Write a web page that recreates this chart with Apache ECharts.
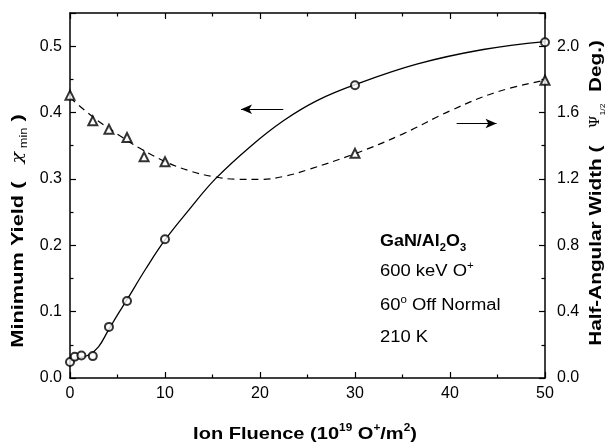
<!DOCTYPE html>
<html>
<head>
<meta charset="utf-8">
<script src="https://cdn.jsdelivr.net/npm/echarts@6/dist/echarts.min.js"></script>
<style>
html, body { margin: 0; padding: 0; background: #fff; }
#main { width: 605px; height: 445px; }
</style>
</head>
<body>
<div id="main"></div>
<script>
// measured points: minimum yield (left axis)
var yieldX = [0, 0.5, 1.2, 2.4, 4.1, 6, 10, 30, 50];
var yieldY = [0.024, 0.032, 0.034, 0.033, 0.077, 0.116, 0.209, 0.441, 0.506];
// measured points: half-angular width (right axis)
var widthX = [0, 2.4, 4.1, 6, 7.8, 10, 30, 50];
var widthY = [1.705, 1.55, 1.50, 1.45, 1.333, 1.303, 1.354, 1.795];
// fitted curves
var yieldFitX = [0, 1, 2, 3, 4, 5, 6, 8, 10, 12.5, 15.3, 19, 22.5, 26, 30, 36.5, 43.5, 50];
var yieldFitY = [0.026, 0.030, 0.035, 0.047, 0.071, 0.095, 0.118, 0.165, 0.208, 0.253, 0.300, 0.349, 0.388, 0.418, 0.442, 0.473, 0.495, 0.507];
var widthFitX = [0, 2.5, 5, 7.5, 10, 12.5, 15, 17.5, 20, 22.5, 25, 30, 35, 40, 45, 50];
var widthFitY = [1.69, 1.57, 1.47, 1.38, 1.305, 1.25, 1.215, 1.198, 1.197, 1.215, 1.255, 1.352, 1.47, 1.61, 1.725, 1.795];

function pairs(xs, ys) {
    return xs.map(function (x, i) { return [x, ys[i]]; });
}

var font = '"Liberation Sans", Arial, sans-serif';
var black = '#000';
var axisLine = { show: true, onZero: false, lineStyle: { color: black, width: 1.5 } };
var axisTick = { show: true, inside: true, length: 6, lineStyle: { color: black, width: 1.2 } };
var minorTick = { show: true, splitNumber: 2, length: 3.5, lineStyle: { color: black, width: 1.2 } };

var myChart = echarts.init(document.getElementById('main'));
var option = {
    animation: false,
    backgroundColor: '#fff',
    grid: { left: 70, right: 60, top: 13, bottom: 67 },
    xAxis: [{
        type: 'value', min: 0, max: 50, interval: 10, position: 'bottom',
        axisLine: axisLine, axisTick: axisTick, minorTick: minorTick,
        axisLabel: { color: black, fontFamily: font, fontSize: 16, margin: 8 },
        splitLine: { show: false }
    }, {
        type: 'value', min: 0, max: 50, interval: 10, position: 'top',
        axisLine: axisLine, axisTick: axisTick, minorTick: minorTick,
        axisLabel: { show: false },
        splitLine: { show: false }
    }],
    yAxis: [{
        type: 'value', min: 0, max: 0.55, interval: 0.1, position: 'left',
        axisLine: axisLine, axisTick: axisTick, minorTick: minorTick,
        axisLabel: {
            color: black, fontFamily: font, fontSize: 16, margin: 8, showMaxLabel: false,
            formatter: function (v) { return v.toFixed(1); }
        },
        splitLine: { show: false }
    }, {
        type: 'value', min: 0, max: 2.2, interval: 0.4, position: 'right',
        axisLine: axisLine, axisTick: axisTick, minorTick: minorTick,
        axisLabel: {
            color: black, fontFamily: font, fontSize: 16, margin: 12, showMaxLabel: false,
            formatter: function (v) { return v.toFixed(1); }
        },
        splitLine: { show: false }
    }],
    series: [{
        type: 'line',
        yAxisIndex: 0,
        data: pairs(yieldFitX, yieldFitY),
        smooth: 0.4,
        showSymbol: false,
        lineStyle: { color: black, width: 1.3 },
        markLine: {
            silent: true,
            symbol: ['none', 'arrow'],
            symbolSize: [7, 11],
            label: { show: false },
            lineStyle: { color: black, width: 1.2, type: 'solid' },
            data: [[{ coord: [22.45, 0.405] }, { coord: [18.0, 0.405] }]]
        },
        z: 2
    }, {
        type: 'line',
        yAxisIndex: 1,
        data: pairs(widthFitX, widthFitY),
        smooth: 0.4,
        showSymbol: false,
        lineStyle: { color: black, width: 1.2, type: [7, 5] },
        markLine: {
            silent: true,
            symbol: ['none', 'arrow'],
            symbolSize: [7, 11],
            label: { show: false },
            lineStyle: { color: black, width: 1.2, type: 'solid' },
            data: [[{ coord: [40.7, 1.534] }, { coord: [44.9, 1.534] }]]
        },
        z: 2
    }, {
        type: 'scatter',
        yAxisIndex: 0,
        data: pairs(yieldX, yieldY),
        symbol: 'emptyCircle',
        symbolSize: 8,
        clip: false,
        itemStyle: { color: black, borderColor: black, borderWidth: 1 },
        z: 3
    }, {
        type: 'scatter',
        yAxisIndex: 1,
        data: pairs(widthX, widthY),
        symbol: 'emptyTriangle',
        symbolSize: 9,
        clip: false,
        itemStyle: { color: black, borderColor: black, borderWidth: 1 },
        z: 3
    }],
    graphic: [{
        type: 'text', x: 18, y: 231, rotation: Math.PI / 2, scaleX: 1.28,
        style: {
            text: '{b|Minimum Yield (   }{c|χ}{s| min}{b| )}',
            align: 'center', verticalAlign: 'middle',
            rich: {
                b: { fontFamily: font, fontSize: 17, fontWeight: 'bold', fill: black, lineHeight: 22 },
                c: { fontFamily: 'DejaVu Serif', fontStyle: 'italic', fontSize: 15, fill: black, lineHeight: 22 },
                s: { fontFamily: font, fontSize: 10, fill: black, lineHeight: 12, verticalAlign: 'bottom' }
            }
        }
    }, {
        type: 'text', x: 596, y: 193, rotation: Math.PI / 2, scaleX: 1.22,
        style: {
            text: '{b|Half-Angular Width (   }{c|Ψ}{s|1/2}{b|  Deg.)}',
            align: 'center', verticalAlign: 'middle',
            rich: {
                b: { fontFamily: font, fontSize: 17, fontWeight: 'bold', fill: black, lineHeight: 22 },
                c: { fontFamily: 'DejaVu Serif', fontSize: 12, fill: black, lineHeight: 22 },
                s: { fontFamily: font, fontSize: 7, fill: black, lineHeight: 12, verticalAlign: 'bottom' }
            }
        }
    }, {
        type: 'text', x: 305, y: 434, scaleX: 1.18,
        style: {
            text: '{b|Ion Fluence (10}{p|19}{b| O}{p|+}{b|/m}{p|2}{b|)}',
            align: 'center', verticalAlign: 'middle',
            rich: {
                b: { fontFamily: font, fontSize: 17, fontWeight: 'bold', fill: black, lineHeight: 22 },
                p: { fontFamily: font, fontSize: 10, fontWeight: 'bold', fill: black, lineHeight: 12, verticalAlign: 'top' }
            }
        }
    }, {
        type: 'text', x: 380, y: 242, scaleX: 1.12,
        style: {
            text: '{b|GaN/Al}{s|2}{b|O}{s|3}',
            align: 'left', verticalAlign: 'middle',
            rich: {
                b: { fontFamily: font, fontSize: 16, fontWeight: 'bold', fill: black, lineHeight: 22 },
                s: { fontFamily: font, fontSize: 10, fontWeight: 'bold', fill: black, lineHeight: 12, verticalAlign: 'bottom' }
            }
        }
    }, {
        type: 'text', x: 380, y: 272, scaleX: 1.15,
        style: {
            text: '{n|600 keV O}{p|+}',
            align: 'left', verticalAlign: 'middle',
            rich: {
                n: { fontFamily: font, fontSize: 16, fill: black, lineHeight: 22 },
                p: { fontFamily: font, fontSize: 10, fill: black, lineHeight: 12, verticalAlign: 'top' }
            }
        }
    }, {
        type: 'text', x: 380, y: 306, scaleX: 1.15,
        style: {
            text: '{n|60}{p|o}{n| Off Normal}',
            align: 'left', verticalAlign: 'middle',
            rich: {
                n: { fontFamily: font, fontSize: 16, fill: black, lineHeight: 22 },
                p: { fontFamily: font, fontSize: 10, fill: black, lineHeight: 12, verticalAlign: 'top' }
            }
        }
    }, {
        type: 'text', x: 380, y: 338, scaleX: 1.15,
        style: {
            text: '210 K',
            align: 'left', verticalAlign: 'middle',
            font: '16px ' + font, fill: black
        }
    }]
};
myChart.setOption(option);
</script>
</body>
</html>
